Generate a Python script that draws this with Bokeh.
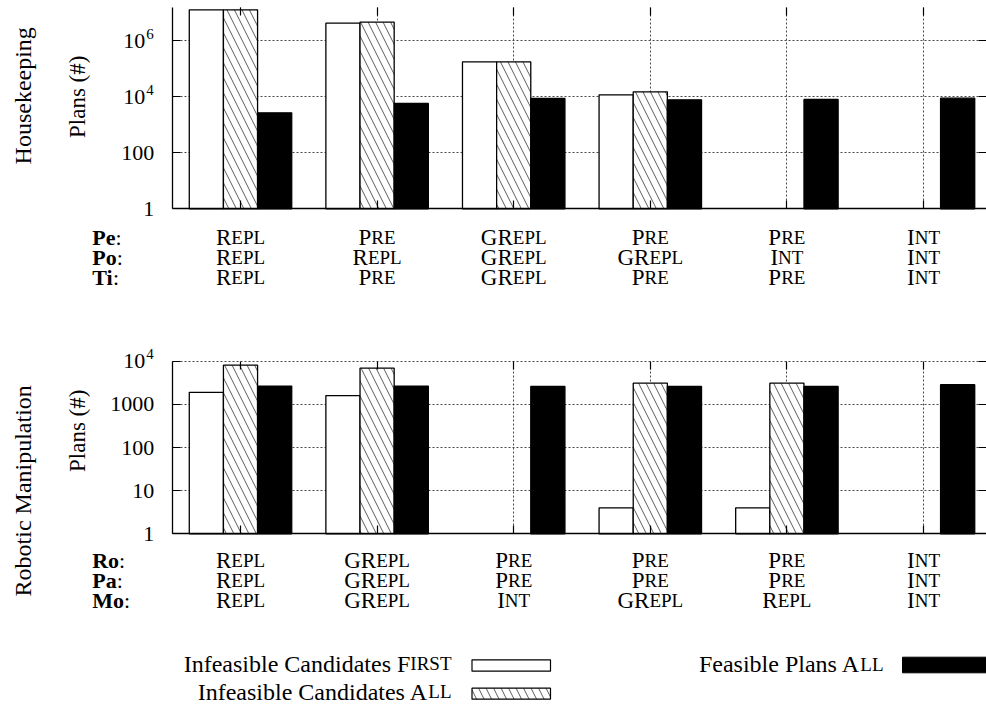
import math
from bokeh.plotting import figure
from bokeh.models import Range1d, LinearAxis, LogAxis, FixedTicker, Label, ColumnDataSource
from bokeh.layouts import column
from bokeh.core.properties import value
from bokeh.embed import file_html
from bokeh.resources import INLINE

FONT = "Liberation Serif"
W = 986

groups = [0, 1, 2, 3, 4, 5]

# Housekeeping domain: number of plans per configuration
hk_first = [1.24e7, 4.15e6, 1.74e5, 1.16e4, None, None]
hk_all = [1.24e7, 4.5e6, 1.74e5, 1.48e4, None, None]
hk_feasible = [2650, 5700, 8550, 7700, 7900, 8800]
hk_ticks = [1, 100, 1e4, 1e6]
hk_tick_text = [("1", ""), ("100", ""), ("10", "4"), ("10", "6")]
hk_top = 1.5e7
hk_rows = ["Pe", "Po", "Ti"]
hk_pe = ["Repl", "Pre", "GRepl", "Pre", "Pre", "Int"]
hk_po = ["Repl", "Repl", "GRepl", "GRepl", "Int", "Int"]
hk_ti = ["Repl", "Pre", "GRepl", "Pre", "Pre", "Int"]

# Robotic manipulation domain
rm_first = [1900, 1600, None, 4, 4, None]
rm_all = [8100, 6900, None, 3100, 3100, None]
rm_feasible = [2650, 2650, 2600, 2600, 2600, 2850]
rm_ticks = [1, 10, 100, 1000, 1e4]
rm_tick_text = [("1", ""), ("10", ""), ("100", ""), ("1000", ""), ("10", "4")]
rm_top = 1e4
rm_rows = ["Ro", "Pa", "Mo"]
rm_ro = ["Repl", "GRepl", "Pre", "Pre", "Pre", "Int"]
rm_pa = ["Repl", "GRepl", "Pre", "Pre", "Pre", "Int"]
rm_mo = ["Repl", "GRepl", "Int", "GRepl", "Repl", "Int"]

legend_first = ("Infeasible Candidates ", "First")
legend_all = ("Infeasible Candidates ", "All")
legend_feasible = ("Feasible Plans ", "All")

F = 22          # tick labels and row headers
CF = 23         # configuration names, full-size capitals
CS = 19         # configuration names, small capitals
BAR_W = 0.25

# horizontal layout: pixel position of the first group and group spacing
GROUP0_PX = 240.0
GROUP_STEP = 136.6
X_START = -GROUP0_PX / GROUP_STEP
X_END = (W - GROUP0_PX) / GROUP_STEP

# Times-compatible advance widths (per 1000 em)
CAPS = {'A': 722, 'E': 611, 'F': 556, 'G': 722, 'I': 333, 'L': 611, 'N': 722,
        'P': 556, 'R': 667, 'S': 556, 'T': 611}
BOLD = {'P': 611, 'e': 444, 'o': 500, 'T': 667, 'i': 278, 'R': 722, 'a': 500, 'M': 944}

HATCH = dict(hatch_pattern="\\", hatch_color="#333333", hatch_weight=0.8, hatch_scale=15)


def text_width(s, size, table):
    return sum(table.get(c, 500) for c in s) * size / 1000.0


def split_caps(word):
    i = 0
    while i < len(word) and word[i].isupper():
        i += 1
    return word[:i], word[i:].upper()


def lab(p, **kw):
    base = dict(text_font=FONT, text_font_size=f"{F}px", text_color="black")
    base.update(kw)
    p.add_layout(Label(**base))


def quiet_axis(ax, loc, bounds):
    # ticks only, pointing inward; labels are drawn separately
    ax.fixed_location = loc
    ax.bounds = bounds
    ax.major_label_text_font_size = "1px"
    ax.major_label_text_color = None
    ax.major_label_standoff = 0
    ax.major_tick_in = 8
    ax.major_tick_out = 0
    ax.minor_tick_line_color = None
    ax.major_tick_line_width = 1.2


def bars(p, vals, offset, **style):
    xs = [g + offset for g, v in zip(groups, vals) if v is not None]
    tops = [v for v in vals if v is not None]
    src = ColumnDataSource(dict(x=xs, top=tops))
    p.vbar(x="x", top="top", bottom=1, width=BAR_W, source=src, **style)


def panel(height, axis_px, decade_px, y_top, ticks, tick_text,
          first, all_, feas, row_names, rows, baselines, title, title_dy, ylabel_dy):
    y_lo = 10 ** (-(height - axis_px) / decade_px)
    y_hi = 10 ** (axis_px / decade_px)
    p = figure(width=W, height=height, x_range=Range1d(X_START, X_END),
               y_range=Range1d(y_lo, y_hi), y_axis_type="log",
               output_backend="svg", toolbar_location=None,
               min_border=0, min_border_left=0, min_border_right=0,
               min_border_top=0, min_border_bottom=0)
    p.outline_line_color = None
    p.background_fill_color = "white"
    p.border_fill_color = "white"

    xt = FixedTicker(ticks=groups, minor_ticks=[])
    yt = FixedTicker(ticks=ticks, minor_ticks=[])
    xb = (-0.5, X_END)
    yb = (1, y_top)

    quiet_axis(p.xaxis[0], 1, xb)
    quiet_axis(p.yaxis[0], -0.5, yb)
    p.xaxis[0].ticker = xt
    p.yaxis[0].ticker = yt
    p.xaxis[0].axis_line_width = 1.3
    p.yaxis[0].axis_line_width = 1.3

    top_ax = LinearAxis(ticker=FixedTicker(ticks=groups, minor_ticks=[]),
                        axis_line_color=None)
    quiet_axis(top_ax, y_top, xb)
    p.add_layout(top_ax, "above")
    right_ax = LogAxis(ticker=FixedTicker(ticks=ticks, minor_ticks=[]),
                       axis_line_color=None)
    quiet_axis(right_ax, X_END, yb)
    p.add_layout(right_ax, "right")

    p.xgrid.ticker = xt
    p.ygrid.ticker = yt
    p.xgrid[0].cross_bounds = yb
    p.ygrid[0].cross_bounds = xb
    p.xgrid[0].bounds = xb
    p.ygrid[0].bounds = yb
    for g in (p.xgrid[0], p.ygrid[0]):
        g.grid_line_color = "#333333"
        g.grid_line_dash = "2 2"
        g.grid_line_width = 0.9

    bars(p, first, -BAR_W, fill_color="white", line_color="black", line_width=1.3)
    bars(p, all_, 0.0, fill_color="white", line_color="black", line_width=1.3, **HATCH)
    bars(p, feas, BAR_W, fill_color="black", line_color="black", line_width=1.3)

    # tick labels with superscript exponents
    for t, (base, exp) in zip(ticks, tick_text):
        if exp:
            lab(p, x=-0.5, y=t, x_offset=-27, text=base, text_align="right",
                text_baseline="middle")
            lab(p, x=-0.5, y=t, x_offset=-26, y_offset=7, text=exp,
                text_font_size="15px", text_align="left", text_baseline="middle")
        else:
            lab(p, x=-0.5, y=t, x_offset=-18, text=base, text_align="right",
                text_baseline="middle")

    # panel titles
    lab(p, x=-0.5, y=1, x_offset=-149, y_offset=title_dy, text=title,
        angle=math.pi / 2, text_font_size="24px", text_align="center",
        text_baseline="middle")
    lab(p, x=-0.5, y=1, x_offset=-95, y_offset=ylabel_dy, text="Plans (#)",
        angle=math.pi / 2, text_font_size="23px", text_align="center",
        text_baseline="middle")

    # configuration rows under the groups
    for name, words, dy in zip(row_names, rows, baselines):
        lab(p, x=-0.5, y=1, x_offset=-80, y_offset=-dy, text=name,
            text_font_style="bold", text_align="left", text_baseline="alphabetic")
        lab(p, x=-0.5, y=1, x_offset=-80 + text_width(name, F, BOLD), y_offset=-dy,
            text=":", text_align="left", text_baseline="alphabetic")
        for g, w in zip(groups, words):
            big, small = split_caps(w)
            wb = text_width(big, CF, CAPS)
            ws = text_width(small, CS, CAPS)
            left = -(wb + ws) / 2
            lab(p, x=g, y=1, x_offset=left, y_offset=-dy, text=big,
                text_font_size=f"{CF}px", text_align="left", text_baseline="alphabetic")
            lab(p, x=g, y=1, x_offset=left + wb, y_offset=-dy, text=small,
                text_font_size=f"{CS}px", text_align="left", text_baseline="alphabetic")
    return p


top = panel(300, 208.3, 28.05, hk_top, hk_ticks, hk_tick_text, hk_first, hk_all,
            hk_feasible, hk_rows, [hk_pe, hk_po, hk_ti], [29, 49, 69],
            "Housekeeping", 113, 112)
bottom = panel(340, 233.3, 43.15, rm_top, rm_ticks, rm_tick_text, rm_first, rm_all,
               rm_feasible, rm_rows, [rm_ro, rm_pa, rm_mo], [27, 47, 67],
               "Robotic Manipulation", 43, 103)

# legend strip: coordinates are pixels from the strip's top-left corner
leg = figure(width=W, height=66, x_range=Range1d(0, W), y_range=Range1d(66, 0),
             output_backend="svg", toolbar_location=None,
             x_axis_location=None, y_axis_location=None,
             min_border=0, min_border_left=0, min_border_right=0,
             min_border_top=0, min_border_bottom=0)
leg.outline_line_color = None
leg.xgrid.visible = False
leg.ygrid.visible = False

LF = 24
LS = 19
key_left = [471.5, 471.5, 902]
key_right = [550, 550, 986]
key_top = [19.3, 47.7, 16.7]
key_bottom = [30.7, 58.7, 32.3]
leg.quad(left=key_left[0], right=key_right[0], top=key_top[0], bottom=key_bottom[0],
         fill_color="white", line_color="black", line_width=1.2)
leg.quad(left=key_left[1], right=key_right[1], top=key_top[1], bottom=key_bottom[1],
         fill_color="white", line_color="black", line_width=1.2, **HATCH)
leg.quad(left=key_left[2], right=key_right[2], top=key_top[2], bottom=key_bottom[2],
         fill_color="black", line_color="black", line_width=1)

text_end = [451, 451, 883]
text_base = [23, 51, 23.5]
for (lead, word), xe, yb in zip([legend_first, legend_all, legend_feasible], text_end, text_base):
    big, small = split_caps(word)
    ws = text_width(small, LS, CAPS)
    leg.text(x=[xe - ws], y=[yb], text=[lead + big], text_font=value(FONT),
             text_font_size=f"{LF}px", text_align="right", text_baseline="alphabetic",
             text_color="black")
    leg.text(x=[xe - ws], y=[yb], text=[small], text_font=value(FONT),
             text_font_size=f"{LS}px", text_align="left", text_baseline="alphabetic",
             text_color="black")

layout = column(top, bottom, leg, spacing=0)
open("out.html", "w").write(file_html(layout, INLINE))
